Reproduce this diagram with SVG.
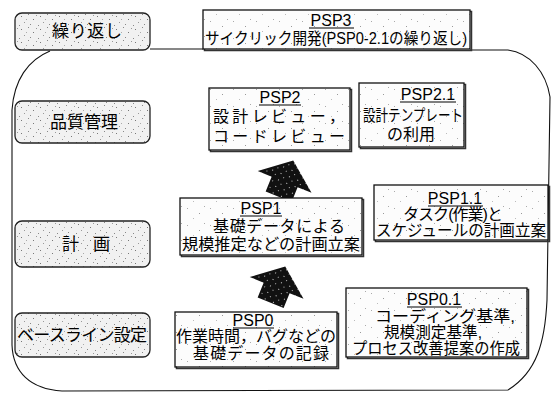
<svg xmlns="http://www.w3.org/2000/svg" width="553" height="394" viewBox="0 0 553 394">
<defs>
<pattern id="dotL" width="19" height="13" patternUnits="userSpaceOnUse">
<rect width="19" height="13" fill="#f1f1f1"/>
<rect x="2" y="3" width="1" height="1" fill="#777"/><rect x="9" y="1" width="1" height="1" fill="#888"/>
<rect x="14" y="6" width="1" height="1" fill="#777"/><rect x="5" y="9" width="1" height="1" fill="#999"/>
<rect x="11" y="11" width="1" height="1" fill="#888"/><rect x="17" y="2" width="1" height="1" fill="#999"/>
<rect x="7" y="6" width="1" height="1" fill="#aaa"/><rect x="0" y="12" width="1" height="1" fill="#888"/>
</pattern>
<pattern id="dotR" width="23" height="17" patternUnits="userSpaceOnUse">
<rect width="23" height="17" fill="#fcfcfc"/>
<rect x="3" y="4" width="1" height="1" fill="#aaa"/><rect x="15" y="9" width="1" height="1" fill="#999"/>
<rect x="9" y="14" width="1" height="1" fill="#bbb"/><rect x="20" y="2" width="1" height="1" fill="#aaa"/>
</pattern>
<pattern id="dotB" width="9" height="7" patternUnits="userSpaceOnUse">
<rect width="9" height="7" fill="#111"/>
<rect x="2" y="1" width="1" height="1" fill="#ddd"/><rect x="6" y="4" width="1" height="1" fill="#bbb"/>
</pattern>
<path id="arrowShape" d="M0,-22 L29,1 L14,1 L14,17 L-14,17 L-14,1 L-29,1 Z"/>
</defs>
<style>
text{font-family:"Liberation Sans","Noto Sans CJK JP",sans-serif;font-size:16px;fill:#000;text-anchor:middle}
.lb{fill:url(#dotL);stroke:#222;stroke-width:1.3}
.lt{font-size:17px}
.rb{fill:url(#dotR);stroke:#111;stroke-width:1.3}
.sh{fill:none;stroke:#333;stroke-width:1.5}
.ul{stroke:#000;stroke-width:1}
.con{fill:none;stroke:#111;stroke-width:1.1}
</style>
<rect width="553" height="394" fill="#fff"/>

<g id="connectors">
<path class="con" d="M150,49 L203,49"/>
<path class="con" d="M470,50 L508,50 C530,53 546,72 550,97 L547,300 C545,342 537,372 508,390 L62,391 C30,389 13,372 12,345 L12,110 C14,80 28,60 50,51"/>
<use href="#arrowShape" fill="url(#dotB)" transform="translate(285,181) rotate(22)"/>
<use href="#arrowShape" fill="url(#dotB)" transform="translate(277,287) rotate(22)"/>
</g>

<g id="n-repeat">
<rect class="lb" x="15" y="13" width="135" height="37" rx="7"/>
<text class="lt" x="87" y="37" textLength="70">繰り返し</text>
</g>
<g id="n-quality">
<rect class="lb" x="15" y="101" width="135" height="42" rx="7"/>
<text class="lt" x="84" y="128" textLength="68">品質管理</text>
</g>
<g id="n-plan">
<rect class="lb" x="15" y="221" width="135" height="46" rx="7"/>
<text class="lt" x="86" y="250" textLength="48">計 画</text>
</g>
<g id="n-baseline">
<rect class="lb" x="15" y="313" width="135" height="44" rx="7"/>
<text class="lt" x="82" y="341" textLength="130">ベースライン設定</text>
</g>

<g id="n-psp3">
<rect class="sh" x="204.5" y="11.5" width="267" height="39"/>
<rect class="rb" x="203" y="10" width="267" height="39"/>
<text x="331" y="26">PSP3</text>
<line class="ul" x1="309" y1="28" x2="354" y2="28"/>
<text x="336" y="44" textLength="262" lengthAdjust="spacingAndGlyphs">サイクリック開発(PSP0-2.1の繰り返し)</text>
</g>

<g id="n-psp2">
<rect class="sh" x="210.5" y="89.5" width="141" height="62"/>
<rect class="rb" x="209" y="88" width="141" height="62"/>
<text x="280" y="103">PSP2</text>
<line class="ul" x1="259" y1="105" x2="301" y2="105"/>
<text x="279" y="122" textLength="132">設計レビュー，</text>
<text x="279" y="142" textLength="132">コードレビュー</text>
</g>

<g id="n-psp21">
<rect class="sh" x="360.5" y="84.5" width="105" height="64"/>
<rect class="rb" x="359" y="83" width="105" height="64"/>
<text x="428" y="100">PSP2.1</text>
<line class="ul" x1="400" y1="102" x2="456" y2="102"/>
<text x="413" y="121" textLength="100" lengthAdjust="spacingAndGlyphs">設計テンプレート</text>
<text x="411" y="140">の利用</text>
</g>

<g id="n-psp1">
<rect class="sh" x="181.5" y="199.5" width="182" height="57"/>
<rect class="rb" x="180" y="198" width="182" height="57"/>
<text x="261" y="214">PSP1</text>
<line class="ul" x1="240" y1="216" x2="282" y2="216"/>
<text x="279" y="232" textLength="132">基礎データによる</text>
<text x="271" y="250" textLength="178" lengthAdjust="spacingAndGlyphs">規模推定などの計画立案</text>
</g>

<g id="n-psp11">
<rect class="sh" x="375.5" y="186.5" width="174" height="55"/>
<rect class="rb" x="374" y="185" width="174" height="55"/>
<text x="455" y="204">PSP1.1</text>
<line class="ul" x1="428" y1="206" x2="483" y2="206"/>
<text x="453" y="220" textLength="100">タスク(作業)と</text>
<text x="461" y="236" textLength="170" lengthAdjust="spacingAndGlyphs">スケジュールの計画立案</text>
</g>

<g id="n-psp0">
<rect class="sh" x="176.5" y="313.5" width="162" height="55"/>
<rect class="rb" x="175" y="312" width="162" height="55"/>
<text x="253" y="326">PSP0</text>
<line class="ul" x1="233" y1="328" x2="274" y2="328"/>
<text x="256" y="342" textLength="160" lengthAdjust="spacingAndGlyphs">作業時間，バグなどの</text>
<text x="261" y="359" textLength="136">基礎データの記録</text>
</g>

<g id="n-psp01">
<rect class="sh" x="347.5" y="289.5" width="181" height="69"/>
<rect class="rb" x="346" y="288" width="181" height="69"/>
<text x="434" y="305">PSP0.1</text>
<line class="ul" x1="407" y1="307" x2="462" y2="307"/>
<text x="445" y="322" textLength="140" lengthAdjust="spacingAndGlyphs">コーディング基準,</text>
<text x="433" y="338" textLength="98" lengthAdjust="spacingAndGlyphs">規模測定基準,</text>
<text x="436" y="354" textLength="168" lengthAdjust="spacingAndGlyphs">プロセス改善提案の作成</text>
</g>
</svg>
